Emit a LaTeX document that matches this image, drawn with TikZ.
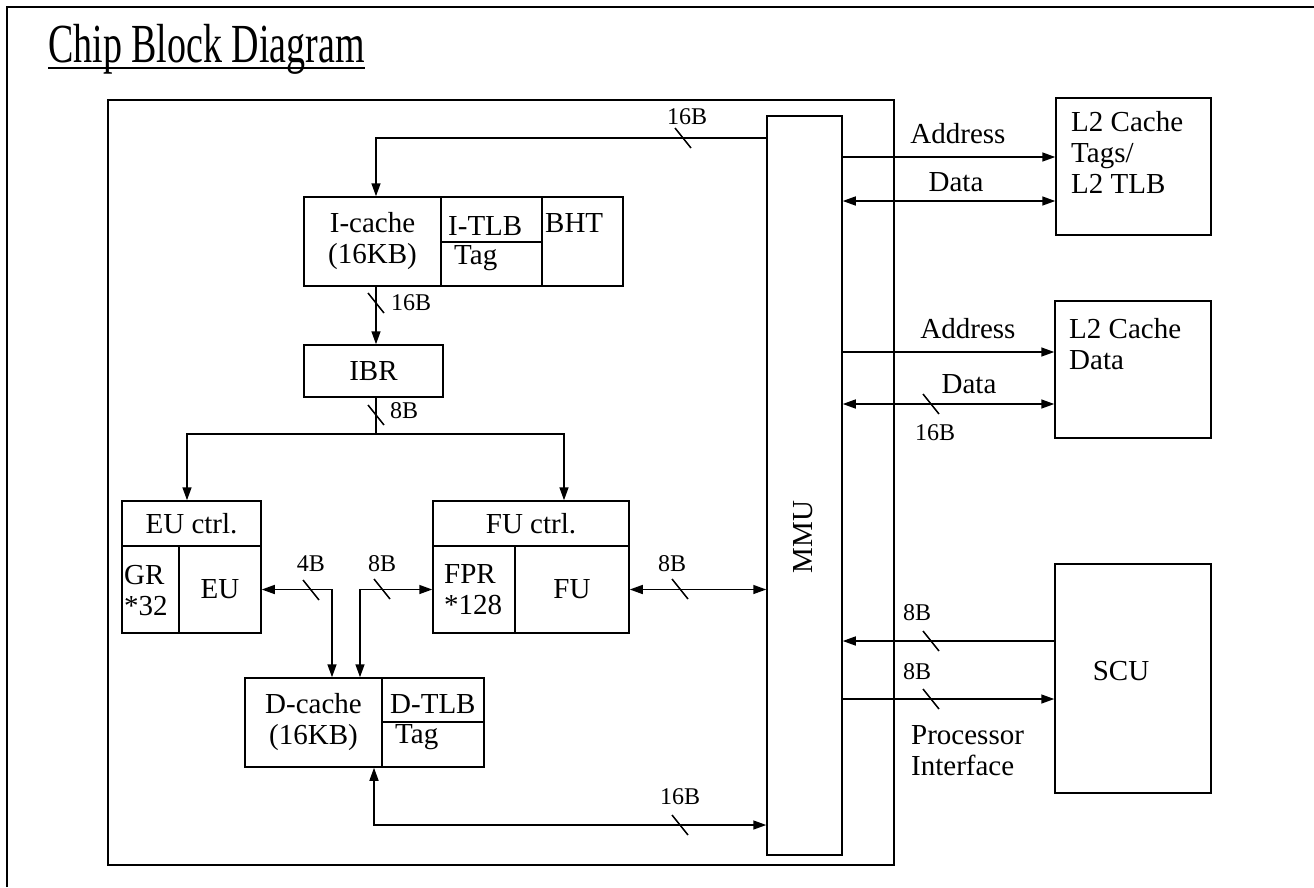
\documentclass[tikz,border=0pt]{standalone}
\usepackage{fontspec}
\setmainfont{Liberation Serif}
\usepackage{graphicx}
\usetikzlibrary{arrows.meta}

% bus width mark: name, point on the bus, text, offset of the text
\newcommand{\buswidth}[4]{%
  \draw[tick] ([shift={(-8pt,10pt)}]#2) -- ([shift={(8pt,-10pt)}]#2);
  \node[wlabel] (#1) at ([shift={#4}]#2) {#3};
}

\begin{document}
\begin{tikzpicture}[
  x=1pt, y=-1pt,
  cell/.style={draw, line width=1.5pt, inner sep=0pt, align=center,
               font=\fontsize{29}{31}\selectfont},
  txt/.style={inner sep=2pt, align=left, font=\fontsize{29}{31}\selectfont},
  wlabel/.style={inner sep=1pt, font=\fontsize{24}{26}\selectfont},
  bus/.style={line width=1.5pt},
  tick/.style={line width=1.5pt},
  >={Triangle[length=13pt,width=9pt]},
]
\useasboundingbox (0,0) rectangle (1314,887);

% ── Frame and title ───────────────────────────────────────────────────────────
\draw[line width=1.4pt] (7,887) -- (7,7) -- (1314,7);
\node[anchor=base west, inner sep=0pt] (title) at (48,62)
  {\scalebox{1}[1.45]{\fontsize{38}{40}\selectfont Chip Block Diagram}};
\draw[line width=1.5pt] ([yshift=-6pt]title.base west) -- ([yshift=-6pt]title.base east);

% ── Chip and MMU ──────────────────────────────────────────────────────────────
\node[cell, minimum width=786pt, minimum height=765pt] (chip) at (501,482.5) {};
\node[cell, minimum width=75pt, minimum height=739pt] (mmu) at (804.5,485.5) {};
\node[txt, rotate=90] (mmutext) at (803,537) {MMU};

% ── I-cache ───────────────────────────────────────────────────────────────────
\node[cell, minimum width=137pt, minimum height=89pt] (icache) at (372.5,241.5) {I-cache\\(16KB)};
\node[cell, minimum width=101pt, minimum height=45pt] (itlb) at (491.5,219.5) {};
\node[cell, minimum width=101pt, minimum height=44pt] (itag) at (491.5,264) {};
\node[cell, minimum width=81pt, minimum height=89pt] (bht) at (582.5,241.5) {};
\node[txt, anchor=north west] (itlbtext) at (446,214) {I-TLB};
\node[txt, anchor=north west] (itagtext) at (452,243) {Tag};
\node[txt, anchor=north west] (bhttext) at (543,211) {BHT};

\node[cell, minimum width=139pt, minimum height=52pt] (ibr) at (373.5,371) {IBR};

% ── EU and FU ─────────────────────────────────────────────────────────────────
\node[cell, minimum width=139pt, minimum height=45pt] (euctrl) at (191.5,523.5) {EU ctrl.};
\node[cell, minimum width=57pt, minimum height=87pt] (gr) at (150.5,589.5) {};
\node[cell, minimum width=82pt, minimum height=87pt] (eu) at (220,589.5) {EU};
\node[txt, anchor=west] (grtext) at (122,591) {GR\\{*32}};

\node[cell, minimum width=196pt, minimum height=45pt] (fuctrl) at (531,523.5) {FU ctrl.};
\node[cell, minimum width=82pt, minimum height=87pt] (fpr) at (474,589.5) {};
\node[cell, minimum width=114pt, minimum height=87pt] (fu) at (572,589.5) {FU};
\node[txt, anchor=west] (fprtext) at (442,590) {FPR\\{*128}};

% ── D-cache ───────────────────────────────────────────────────────────────────
\node[cell, minimum width=137pt, minimum height=89pt] (dcache) at (313.5,722.5) {D-cache\\(16KB)};
\node[cell, minimum width=102pt, minimum height=44pt] (dtlb) at (433,700) {};
\node[cell, minimum width=102pt, minimum height=45pt] (dtag) at (433,744.5) {};
\node[txt, anchor=north west] (dtlbtext) at (388,692) {D-TLB};
\node[txt, anchor=north west] (dtagtext) at (393,722) {Tag};

% ── Off-chip blocks ───────────────────────────────────────────────────────────
\node[cell, minimum width=155pt, minimum height=137pt] (l2tag) at (1133.5,166.5) {};
\node[txt, anchor=north west] (l2tagtext) at (1069,109) {L2 Cache\\Tags/\\L2 TLB};
\node[cell, minimum width=156pt, minimum height=137pt] (l2data) at (1133,369.5) {};
\node[txt, anchor=north west] (l2datatext) at (1067,316) {L2 Cache\\Data};
\node[cell, minimum width=156pt, minimum height=229pt] (scu) at (1133,678.5) {};
\node[txt] (scutext) at (1121,671) {SCU};

% ── On-chip buses ─────────────────────────────────────────────────────────────
\draw[bus,->] (mmu.west |- 0,138) -| ([xshift=3.5pt]icache.north);
\draw[bus,->] ([xshift=3.5pt]icache.south) -- ([xshift=3.5pt]icache.south |- ibr.north);
\coordinate (split) at (376,434);
\draw[bus] (split |- ibr.south) -- (split);
\draw[bus,->] (split) -| ([xshift=-4.5pt]euctrl.north);
\draw[bus,->] (split) -| ([xshift=33pt]fuctrl.north);
\draw[bus,<->] (eu.east) -| ([xshift=18.5pt]dcache.north);
\draw[bus,<->] ([xshift=46.5pt]dcache.north) |- (fpr.west);
\draw[bus,<->] (fu.east) -- (fu.east -| mmu.west);
\draw[bus,<->] ([xshift=60.5pt]dcache.south) |- (mmu.west |- 0,825);

% ── Off-chip buses ────────────────────────────────────────────────────────────
\draw[bus,->] (mmu.east |- 0,157) -- (l2tag.west |- 0,157);
\draw[bus,<->] (mmu.east |- 0,201) -- (l2tag.west |- 0,201);
\draw[bus,->] (mmu.east |- 0,352) -- (l2data.west |- 0,352);
\draw[bus,<->] (mmu.east |- 0,404) -- (l2data.west |- 0,404);
\draw[bus,->] (scu.west |- 0,641) -- (mmu.east |- 0,641);
\draw[bus,->] (mmu.east |- 0,699) -- (scu.west |- 0,699);

\node[txt] (addr1) at (958,134) {Address};
\node[txt] (data1) at (956,182) {Data};
\node[txt] (addr2) at (968,329) {Address};
\node[txt] (data2) at (969,384) {Data};
\node[txt, anchor=north west] (pif) at (909,723) {Processor\\Interface};

% ── Bus widths ────────────────────────────────────────────────────────────────
\buswidth{w1}{683,138}{16B}{(4pt,21pt)}
\buswidth{w2}{376,303}{16B}{(35pt,0pt)}
\buswidth{w3}{376,415}{8B}{(28pt,4pt)}
\buswidth{w4}{311,590}{4B}{(0pt,26pt)}
\buswidth{w5}{382,589}{8B}{(0pt,25pt)}
\buswidth{w6}{680,589}{8B}{(-8pt,25pt)}
\buswidth{w7}{680,825}{16B}{(0pt,28pt)}
\buswidth{w8}{931,404}{16B}{(4pt,-29pt)}
\buswidth{w9}{931,641}{8B}{(-14pt,28pt)}
\buswidth{w10}{931,699}{8B}{(-14pt,27pt)}

\end{tikzpicture}
\end{document}
